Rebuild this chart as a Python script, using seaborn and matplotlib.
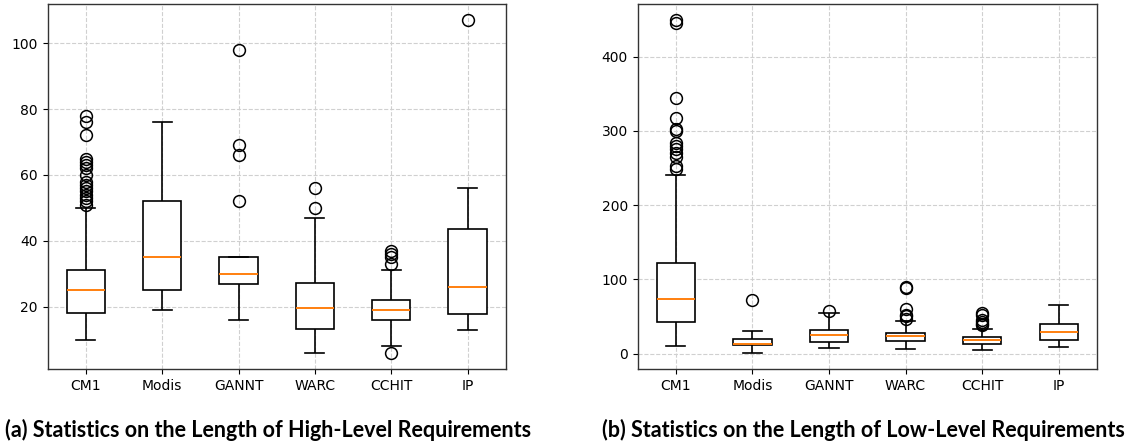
import numpy as np
import pandas as pd
import matplotlib
matplotlib.use("Agg")
import matplotlib.pyplot as plt
import seaborn as sns

categories = ["CM1", "Modis", "GANNT", "WARC", "CCHIT", "IP"]

# ---- (a) High-level requirement lengths: box statistics
high_lo  = [10, 19, 16, 6, 8, 13]
high_q1  = [18, 25, 27, 13.3, 16, 17.7]
high_med = [25, 35, 30, 19.7, 19, 26]
high_q3  = [31, 52, 35, 27.1, 22, 43.5]
high_hi  = [50, 76, 35, 47, 31, 56]
high_out = [
    [51, 52, 53, 54, 55, 56, 57, 58, 60, 62, 63, 64, 65, 72, 76, 78],
    [],
    [52, 66, 69, 98],
    [50, 56],
    [6, 33, 35, 36, 37],
    [107],
]

# ---- (b) Low-level requirement lengths
low_lo  = [10, 1, 8, 6, 4.5, 9]
low_q1  = [42, 11, 16, 17, 13, 18.8]
low_med = [73.5, 13, 24.6, 23.7, 17.9, 29]
low_q3  = [121.5, 20, 32, 28.2, 22.4, 40.3]
low_hi  = [240, 30, 55, 44, 33, 65]
low_out = [
    [249, 252, 265, 270, 275, 280, 284, 300, 303, 317, 344, 445, 449],
    [72],
    [58],
    [47, 50, 52, 60, 88, 90],
    [38, 40, 42, 45, 52, 55],
    [],
]


def to_frame(lo, q1, med, q3, hi, out):
    rows = []
    for cat, a, b, c, d, e, o in zip(categories, lo, q1, med, q3, hi, out):
        k = 4 * len(o) + 8
        vals = [a] + [b] * k + [c] * k + [d] * k + [e] + list(o)
        rows += [(cat, v) for v in vals]
    return pd.DataFrame(rows, columns=["dataset", "length"])


df_high = to_frame(high_lo, high_q1, high_med, high_q3, high_hi, high_out)
df_low = to_frame(low_lo, low_q1, low_med, low_q3, low_hi, low_out)

plt.rcParams["font.family"] = ["DejaVu Sans"]

fig = plt.figure(figsize=(11.34, 4.43), dpi=100)
ax1 = fig.add_axes([0.042, 0.166, 0.404, 0.826])
ax2 = fig.add_axes([0.5623, 0.166, 0.405, 0.826])

box_kw = dict(
    x="dataset", y="length", order=categories, width=0.5,
    color="white", linecolor="black", linewidth=1.2,
    medianprops=dict(color="#ff7f0e", linewidth=1.4),
    flierprops=dict(marker="o", markersize=8.5, markerfacecolor="none",
                    markeredgecolor="black", markeredgewidth=1.1),
    whis=1.5,
)

for ax, df in [(ax1, df_high), (ax2, df_low)]:
    sns.boxplot(data=df, ax=ax, **box_kw)
    ax.set_xlabel("")
    ax.set_ylabel("")
    ax.grid(True, linestyle="--", color="#d0d0d0", linewidth=0.8)
    ax.set_axisbelow(True)
    ax.tick_params(labelsize=10)
    for s in ax.spines.values():
        s.set_color("#333333")
        s.set_linewidth(1.0)

ax1.set_ylim(0.95, 112.05)
ax2.set_ylim(-21.4, 471.4)

fig.text(0.236, 0.03, "(a) Statistics on the Length of High-Level Requirements",
         ha="center", va="center", fontsize=15.5, fontweight="bold", family="Lato")
fig.text(0.761, 0.03, "(b) Statistics on the Length of Low-Level Requirements",
         ha="center", va="center", fontsize=15.5, fontweight="bold", family="Lato")

fig.savefig("out.png", dpi=100)
